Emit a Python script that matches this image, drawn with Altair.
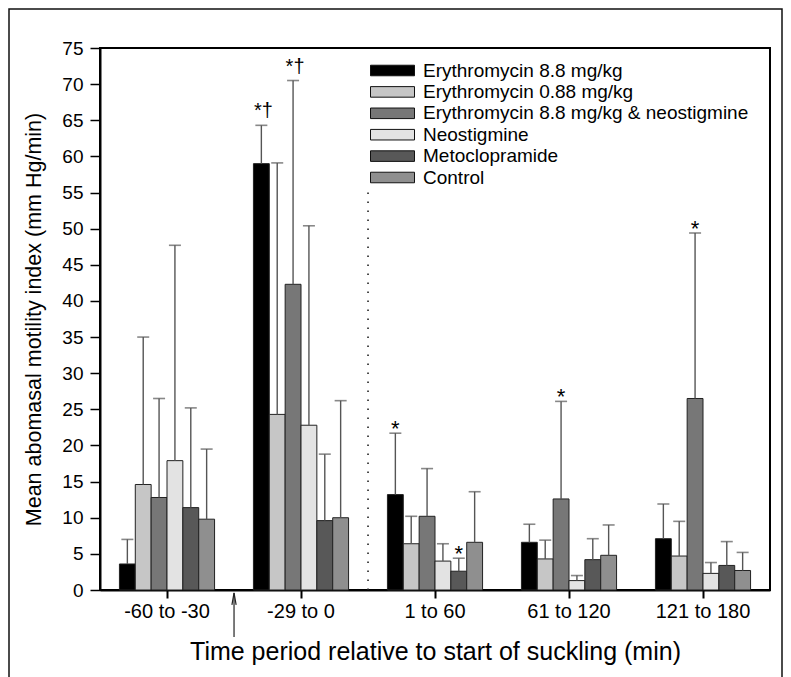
import altair as alt
import pandas as pd

periods = ["-60 to -30", "-29 to 0", "1 to 60", "61 to 120", "121 to 180"]
treatments = [
    "Erythromycin 8.8 mg/kg",
    "Erythromycin 0.88 mg/kg",
    "Erythromycin 8.8 mg/kg & neostigmine",
    "Neostigmine",
    "Metoclopramide",
    "Control",
]
colors = ["#000000", "#c6c6c6", "#777777", "#e3e3e3", "#585858", "#8f8f8f"]

# mean values per treatment (one per period)
ery88_mean = [3.6, 59.0, 13.2, 6.6, 7.1]
ery088_mean = [14.6, 24.3, 6.4, 4.3, 4.7]
eryneo_mean = [12.8, 42.3, 10.2, 12.6, 26.5]
neo_mean = [17.9, 22.8, 4.0, 1.3, 2.3]
meto_mean = [11.4, 9.6, 2.6, 4.2, 3.4]
ctrl_mean = [9.8, 10.0, 6.6, 4.8, 2.7]

# top of the error bar (mean + SD)
ery88_upper = [7.0, 64.3, 21.7, 9.1, 11.9]
ery088_upper = [35.0, 59.1, 10.2, 6.9, 9.5]
eryneo_upper = [26.5, 70.5, 16.8, 26.1, 49.4]
neo_upper = [47.7, 50.4, 6.4, 2.0, 3.8]
meto_upper = [25.2, 18.8, 4.4, 7.1, 6.7]
ctrl_upper = [19.5, 26.2, 13.6, 9.0, 5.2]

# significance marks
dagger_period = ["-29 to 0", "-29 to 0"]
dagger_treat = ["Erythromycin 8.8 mg/kg", "Erythromycin 8.8 mg/kg & neostigmine"]
star_period = ["1 to 60", "1 to 60", "61 to 120", "121 to 180"]
star_treat = ["Erythromycin 8.8 mg/kg", "Metoclopramide",
              "Erythromycin 8.8 mg/kg & neostigmine", "Erythromycin 8.8 mg/kg & neostigmine"]

# annotations: dotted divider before "1 to 60", arrow at start of suckling
divider_period = ["1 to 60"]
divider_range = [0, 55]
arrow_period = ["-29 to 0"]
arrow_range = [-0.4, -6.5]
arrow_head = [-1.23]

means = [ery88_mean, ery088_mean, eryneo_mean, neo_mean, meto_mean, ctrl_mean]
uppers = [ery88_upper, ery088_upper, eryneo_upper, neo_upper, meto_upper, ctrl_upper]
rows = []
for t, m, u in zip(treatments, means, uppers):
    for p, mv, uv in zip(periods, m, u):
        rows.append({"period": p, "treatment": t, "mean": mv, "upper": uv})
df = pd.DataFrame(rows)
lookup = {(r["period"], r["treatment"]): r["upper"] for r in rows}

dag_df = pd.DataFrame({"period": dagger_period, "treatment": dagger_treat,
                       "upper": [lookup[(p, t)] for p, t in zip(dagger_period, dagger_treat)]})
star_df = pd.DataFrame({"period": star_period, "treatment": star_treat,
                        "upper": [lookup[(p, t)] for p, t in zip(star_period, star_treat)]})
div_df = pd.DataFrame({"period": divider_period, "y": [divider_range[0]], "y2": [divider_range[1]]})
arr_df = pd.DataFrame({"period": arrow_period, "y": [arrow_range[0]], "y2": [arrow_range[1]]})
head_df = pd.DataFrame({"period": arrow_period, "y": arrow_head})

FONT = "Liberation Sans"
XTITLE = "Time period relative to start of suckling (min)"
YTITLE = "Mean abomasal motility index (mm Hg/min)"
GAP = -19.4  # half of the gap between bar groups

xscale = alt.Scale(domain=periods, paddingInner=0.29, paddingOuter=0.145)
xaxis = alt.Axis(labelAngle=0, labelFont=FONT, labelFontSize=20, labelColor="black",
                 tickSize=8, tickWidth=2, tickColor="black", domainColor="black",
                 domainWidth=2, labelPadding=3, titleFont=FONT, titleFontSize=25,
                 titleFontWeight="normal", titleColor="black", titlePadding=18, grid=False)
yscale = alt.Scale(domain=[0, 75], nice=False)
yaxis = alt.Axis(values=list(range(0, 80, 5)), labelFont=FONT, labelFontSize=19,
                 labelColor="black", tickSize=10, tickWidth=1.5, tickColor="black",
                 domainColor="black", domainWidth=2, labelPadding=7, titleFont=FONT,
                 titleFontSize=21.5, titleFontWeight="normal", titleColor="black",
                 titlePadding=16, grid=False)


def X(bp=None):
    if bp is None:
        return alt.X("period:N", sort=periods, scale=xscale, axis=xaxis, title=XTITLE)
    return alt.X("period:N", sort=periods, scale=xscale, axis=xaxis, title=XTITLE, bandPosition=bp)


def Y(field):
    return alt.Y(field, scale=yscale, axis=yaxis, title=YTITLE)


xo = alt.XOffset("treatment:N", sort=treatments,
                 scale=alt.Scale(domain=treatments, paddingInner=0, paddingOuter=0))

base = alt.Chart(df)

# wide flat swatch: the path is 4x wider than the nominal symbol size
bars = base.mark_bar(stroke="#222222", strokeWidth=1).encode(
    x=X(), xOffset=xo, y=Y("mean:Q"),
    color=alt.Color("treatment:N", sort=treatments,
                    scale=alt.Scale(domain=treatments, range=colors),
                    legend=alt.Legend(orient="none", legendX=283, legendY=13, title=None,
                                      symbolType="M-4,-0.96H4V0.96H-4Z", symbolSize=121,
                                      symbolStrokeColor="#111111", symbolStrokeWidth=1,
                                      symbolOpacity=1,
                                      labelFont=FONT, labelFontSize=19, labelColor="black",
                                      labelOffset=21, rowPadding=1.4, labelLimit=500)),
)

err = base.mark_rule(color="#555555", strokeWidth=1.4).encode(
    x=X(), xOffset=xo, y=Y("mean:Q"), y2="upper:Q")
caps = base.mark_tick(color="#555555", thickness=1.6, size=12, orient="horizontal").encode(
    x=X(), xOffset=xo, y=Y("upper:Q"))

dag = alt.Chart(dag_df).mark_text(font=FONT, fontSize=20, color="#000000",
                                  baseline="alphabetic", align="center", dy=-8, dx=2).encode(
    x=X(), xOffset=xo, y=Y("upper:Q"), text=alt.value("*\u2020"))
stars = alt.Chart(star_df).mark_text(font=FONT, fontSize=22, color="#000000",
                                     baseline="alphabetic", align="center", dy=3).encode(
    x=X(), xOffset=xo, y=Y("upper:Q"), text=alt.value("*"))

divider = alt.Chart(div_df).mark_rule(color="#222222", strokeWidth=1.6,
                                      strokeDash=[1.5, 7.5], xOffset=GAP).encode(
    x=X(0), y=Y("y:Q"), y2="y2:Q")
arrow = alt.Chart(arr_df).mark_rule(color="#222222", strokeWidth=1.2, xOffset=GAP).encode(
    x=X(0), y=Y("y:Q"), y2="y2:Q")
head = alt.Chart(head_df).mark_point(shape="M-0.35,1L0,-1L0.35,1", size=144, filled=False,
                                     color="#222222", strokeWidth=1.2, opacity=1,
                                     xOffset=GAP).encode(
    x=X(0), y=Y("y:Q"))

border = alt.Chart(pd.DataFrame({"k": [0]})).mark_rect(
    filled=False, stroke="#111111", strokeWidth=1.5).encode(
    x=alt.value(-91), x2=alt.value(682), y=alt.value(-39), y2=alt.value(700))

chart = alt.layer(border, bars, err, caps, dag, stars, divider, arrow, head).properties(
    width=670, height=542,
    autosize=alt.AutoSizeParams(type="none"),
    padding={"left": 92, "top": 40, "right": 13, "bottom": 87},
    background="white",
).configure_view(stroke="black", strokeWidth=2)

chart.save("out.html", embed_options={"renderer": "svg", "actions": False})
